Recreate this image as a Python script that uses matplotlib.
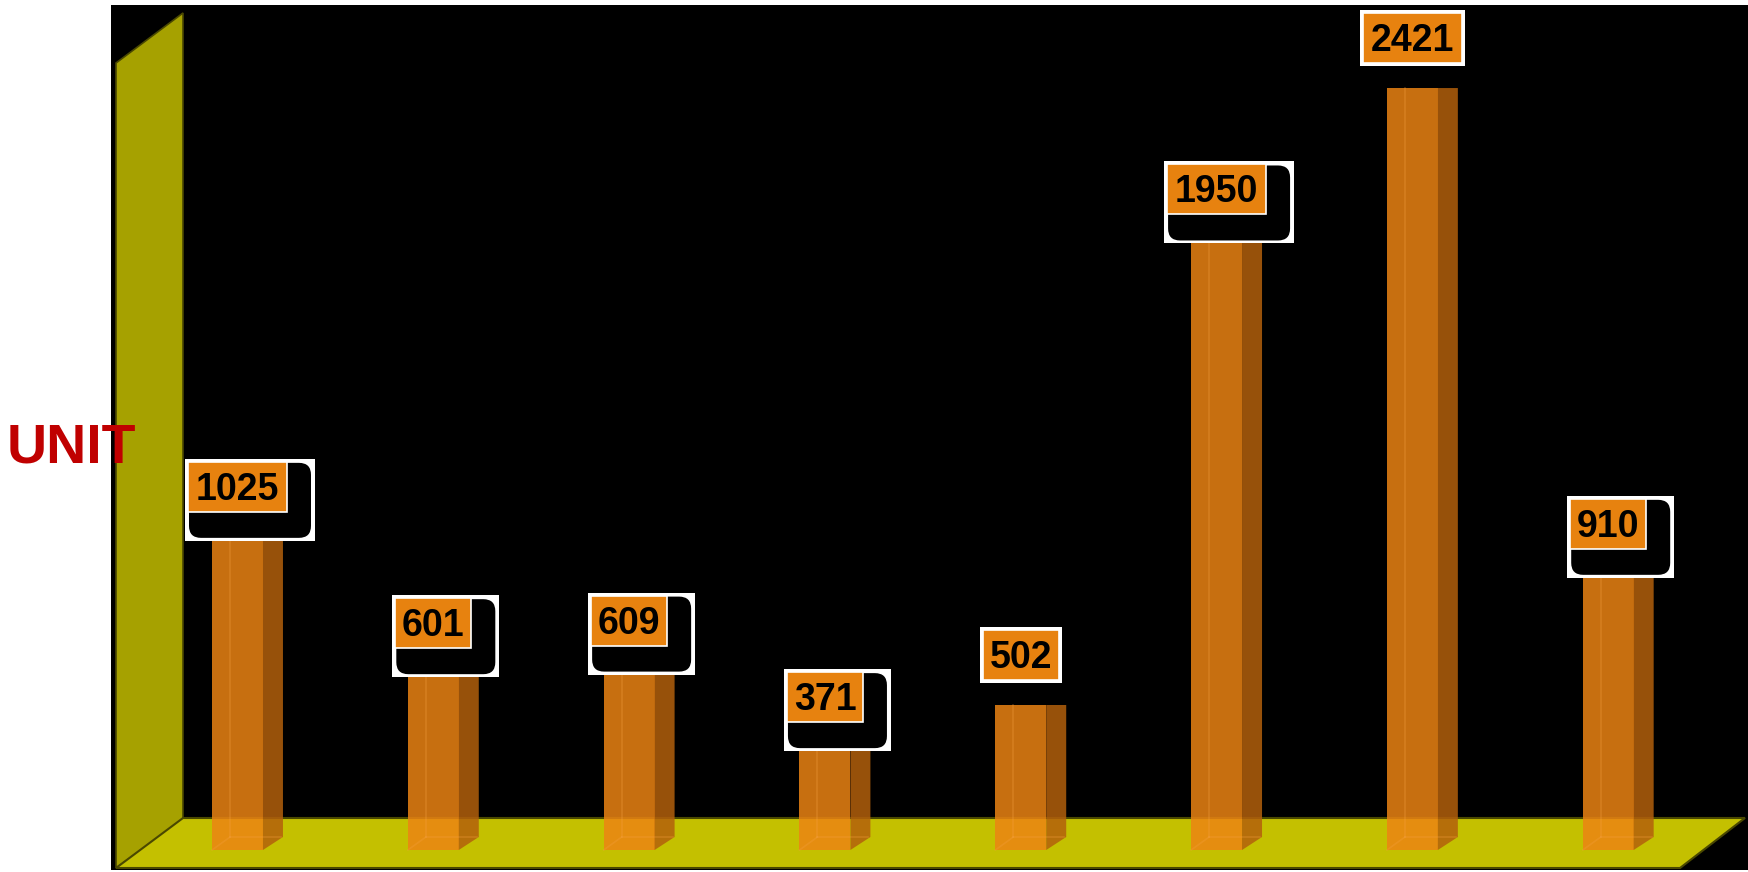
import matplotlib
matplotlib.use('Agg')
import matplotlib.pyplot as plt
import matplotlib.transforms as mtransforms
from matplotlib.patches import Polygon, Rectangle, FancyBboxPatch
import numpy as np

# data
values = [1025, 601, 609, 371, 502, 1950, 2421, 910]
bar_labels = [str(v) for v in values]
shadowed = [True, True, True, True, False, True, False, True]
unit_label = 'UNIT'

W, H = 1749, 872
fig = plt.figure(figsize=(W / 100, H / 100), dpi=100)
fig.patch.set_facecolor('white')
ax = fig.add_axes([111 / W, 2 / H, 1638 / W, 865 / H])
ax.set_facecolor('black')
for s in ax.spines.values():
    s.set_visible(False)
ax.set_xticks([])
ax.set_yticks([])

# image pixel coords (origin top-left) -> display
pix = mtransforms.Affine2D().scale(1, -1).translate(0, H)

# 3d wall + floor
ax.add_patch(Polygon([(116, 63), (183, 13), (183, 820), (116, 868)], closed=True,
                     fc='#a6a100', ec='#4a4800', lw=1.2, transform=pix, zorder=1))
ax.add_patch(Polygon([(116, 868), (183, 818), (1745, 818), (1680, 868)], closed=True,
                     fc='#c4c000', ec='#4a4800', lw=1.5, transform=pix, zorder=1))

x = np.arange(len(values))
base = 51
bw = 0.26
front_col = (235 / 255, 132 / 255, 19 / 255)
side_col = (179 / 255, 96 / 255, 12 / 255)
ax.bar(x, np.array(values) - base, bottom=base, width=bw, color=front_col,
       alpha=0.85, edgecolor='none', zorder=3)

ax.set_xlim(-0.646, 7.719)
ax.set_ylim(-11.2, 2679.3)


def to_img(xd, yd):
    dx, dy = ax.transData.transform((xd, yd))
    return dx, H - dy


dx_side, dy_side = 20, 13
for i, v in enumerate(values):
    L, T = to_img(i - bw / 2, v)
    R, B = to_img(i + bw / 2, base)
    # side face
    ax.add_patch(Polygon([(R, B), (R + dx_side, B - dy_side), (R + dx_side, T), (R, T)],
                         closed=True, fc=side_col, alpha=0.85, ec='none',
                         transform=pix, zorder=3))
    # back edges seen through the bar
    ax.plot([L + 18, L + 18], [T, B - dy_side], color='#f5a040', alpha=0.3, lw=1.2,
            transform=pix, zorder=4)
    ax.plot([L + 18, R + 18], [B - dy_side, B - dy_side], color='#f5a040', alpha=0.3,
            lw=1.2, transform=pix, zorder=4)
    ax.plot([L, L + 18], [B, B - dy_side], color='#f5a040', alpha=0.3, lw=1.2,
            transform=pix, zorder=4)

    # value label box
    cx = (L + R) / 2
    w = 23 * len(bar_labels[i]) + 7
    ob = T - 25
    ot = ob - 50
    ol = cx - w / 2
    if shadowed[i]:
        ax.add_patch(Rectangle((ol - 3, ot - 3), w + 31, 82, fc='white', ec='none',
                               transform=pix, zorder=5, clip_on=False))
        ax.add_patch(FancyBboxPatch((ol + 1, ot + 1), w + 23, 75,
                                    boxstyle='round,pad=0,rounding_size=12',
                                    fc='black', ec='none', transform=pix, zorder=5))
    else:
        ax.add_patch(Rectangle((ol - 3, ot - 3), w + 6, 56, fc='white', ec='none',
                               transform=pix, zorder=5, clip_on=False))
    ax.add_patch(Rectangle((ol, ot), w, 50, fc='#e7820f', ec='white', lw=1.2,
                           transform=pix, zorder=6))
    ax.text(cx, (ot + ob) / 2 + 3, bar_labels[i], transform=pix, ha='center',
            va='center', fontsize=27, fontweight='bold', family='Liberation Sans',
            color='black', zorder=7)

ax.text(7, 462, unit_label, transform=pix, ha='left', va='baseline', fontsize=40,
        fontweight='bold', family='Liberation Sans', color='#c00000',
        clip_on=False, zorder=8)

fig.savefig('out.png', dpi=100, facecolor='white')
